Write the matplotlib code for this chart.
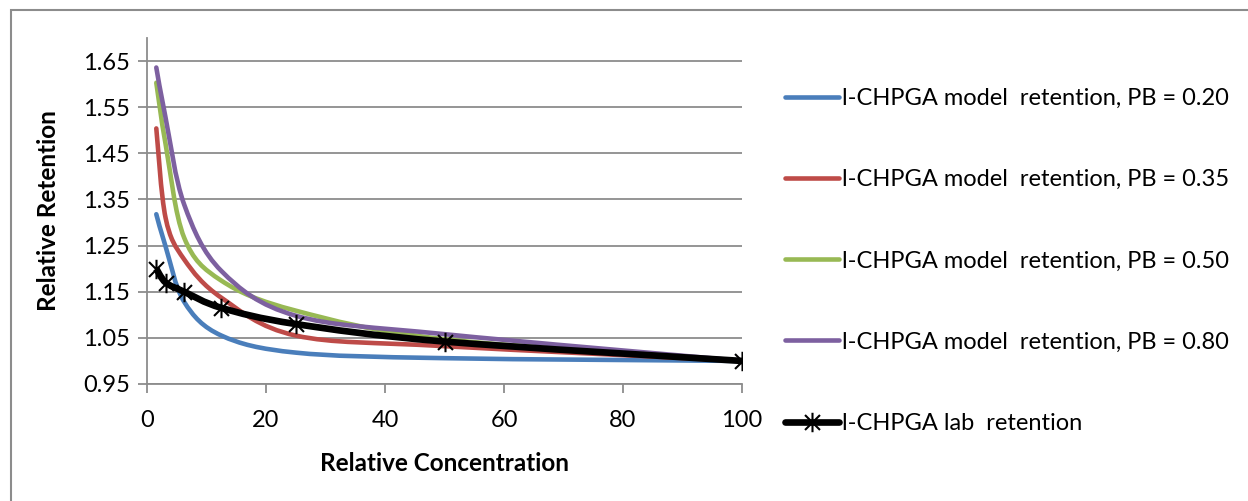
import numpy as np
import matplotlib.pyplot as plt
from matplotlib.path import Path
from matplotlib.patches import PathPatch, Rectangle
from matplotlib.lines import Line2D

plt.rcParams['font.family'] = ['Lato', 'DejaVu Sans']

# relative concentration (halving dilution series)
conc = [1.5625, 3.125, 6.25, 12.5, 25, 50, 100]

ret_pb020 = [1.318, 1.248, 1.128, 1.055, 1.018, 1.006, 1.000]
ret_pb035 = [1.504, 1.310, 1.220, 1.137, 1.055, 1.032, 1.000]
ret_pb050 = [1.603, 1.470, 1.267, 1.174, 1.109, 1.047, 1.000]
ret_pb080 = [1.636, 1.527, 1.339, 1.195, 1.098, 1.058, 1.000]
ret_lab = [1.200, 1.170, 1.150, 1.115, 1.080, 1.042, 1.000]

labels = ['l-CHPGA model  retention, PB = 0.20',
          'l-CHPGA model  retention, PB = 0.35',
          'l-CHPGA model  retention, PB = 0.50',
          'l-CHPGA model  retention, PB = 0.80',
          'l-CHPGA lab  retention']
colors = ['#4A7EBB', '#BE4B48', '#98B954', '#7D60A0', '#000000']


def smooth_path(xs, ys):
    # cubic bezier segments through the points (Catmull-Rom style tangents)
    p = np.column_stack([xs, ys]).astype(float)
    n = len(p)
    verts = [p[0]]
    codes = [Path.MOVETO]
    for i in range(n - 1):
        p0 = p[i - 1] if i > 0 else p[i]
        p3 = p[i + 2] if i + 2 < n else p[i + 1]
        c1 = p[i] + (p[i + 1] - p0) / 6.0
        c2 = p[i + 1] - (p3 - p[i]) / 6.0
        verts += [c1, c2, p[i + 1]]
        codes += [Path.CURVE4] * 3
    return Path(verts, codes)


fig = plt.figure(figsize=(12.48, 5.01), dpi=100)
ax = fig.add_axes([147 / 1248, 1 - 384 / 501, (742 - 147) / 1248, (384 - 38) / 501])

series = [ret_pb020, ret_pb035, ret_pb050, ret_pb080]
for ys, c in zip(series, colors[:4]):
    ax.add_patch(PathPatch(smooth_path(conc, ys), facecolor='none',
                           edgecolor=c, lw=3.3, capstyle='round', zorder=3))

star = Path([(-1, -1), (1, 1), (-1, 1), (1, -1), (0, -1.3), (0, 1.3)],
            [Path.MOVETO, Path.LINETO, Path.MOVETO, Path.LINETO,
             Path.MOVETO, Path.LINETO])
ax.add_patch(PathPatch(smooth_path(conc, ret_lab), facecolor='none',
                       edgecolor='black', lw=4.8, zorder=4))
ax.plot(conc, ret_lab, ls='none', marker=star, ms=14, mew=1.5,
        color='black', zorder=5)

ax.set_xlim(0, 100)
ax.set_ylim(0.95, 1.70)
ax.set_xticks(np.arange(0, 101, 20))
ax.set_yticks(np.arange(0.95, 1.66, 0.1))
ax.set_yticklabels([f'{v:.2f}' for v in np.arange(0.95, 1.66, 0.1)])
ax.yaxis.grid(True, color='#8C8C8C', lw=1.3)
ax.set_axisbelow(True)
for s in ['top', 'right']:
    ax.spines[s].set_visible(False)
for s in ['left', 'bottom']:
    ax.spines[s].set_color('#8C8C8C')
    ax.spines[s].set_linewidth(1.3)
ax.tick_params(colors='#8C8C8C', labelcolor='black', labelsize=17,
               length=6.5, width=1.3)
ax.tick_params(axis='y', pad=6)
ax.tick_params(axis='x', pad=12)
ax.set_xlabel('Relative Concentration', fontsize=17.5, fontweight='bold',
              labelpad=15)
ax.set_ylabel('Relative Retention', fontsize=17.5, fontweight='bold',
              labelpad=16)

handles = [Line2D([], [], color=c, lw=3.3, solid_capstyle='round')
           for c in colors[:4]]
handles.append(Line2D([], [], color='black', lw=4.8, marker=star, ms=14,
                      mew=1.5, solid_capstyle='round'))
fig.legend(handles, labels, loc='upper left',
           bbox_to_anchor=(785 / 1248, 1 - 88 / 501), frameon=False,
           fontsize=17, handlelength=2.3, handletextpad=0.12,
           labelspacing=2.55, borderaxespad=0, borderpad=0)

fig.patches.append(Rectangle((11 / 1248, -0.1), 1.2, 1.1 - 10 / 501,
                             transform=fig.transFigure, fill=False,
                             edgecolor='#8C8C8C', lw=1.5))

fig.savefig('out.png', dpi=100)
